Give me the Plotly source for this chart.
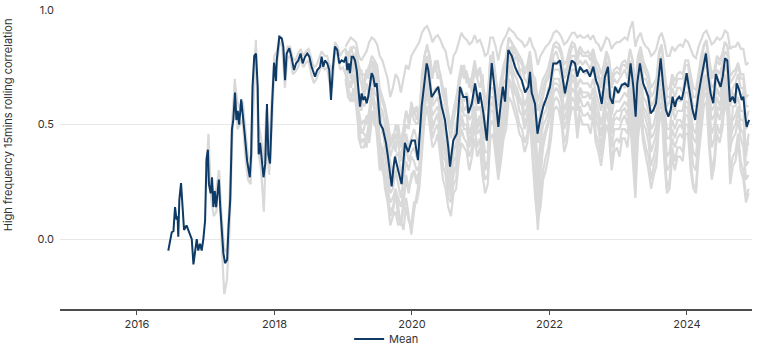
import pandas as pd
import plotly.graph_objects as go

# Mean high-frequency correlation: (decimal year, value)
mean_years = [
    2016.455, 2016.48, 2016.505, 2016.53, 2016.553, 2016.575, 2016.59, 2016.60, 2016.615, 2016.64,
    2016.665, 2016.684, 2016.72, 2016.76, 2016.796, 2016.82, 2016.844, 2016.868, 2016.89, 2016.916,
    2016.94, 2016.964, 2016.989, 2017.01, 2017.03, 2017.045, 2017.07, 2017.09, 2017.11, 2017.13,
    2017.15, 2017.17, 2017.19, 2017.21, 2017.23, 2017.255, 2017.28, 2017.31, 2017.33, 2017.355,
    2017.38, 2017.40, 2017.425, 2017.445, 2017.465, 2017.485, 2017.515, 2017.535, 2017.565, 2017.60,
    2017.64, 2017.66, 2017.68, 2017.705, 2017.73, 2017.755, 2017.77, 2017.79, 2017.81, 2017.84,
    2017.865, 2017.89, 2017.91, 2017.935, 2017.965, 2017.993, 2018.022, 2018.032, 2018.07, 2018.105,
    2018.128, 2018.153, 2018.177, 2018.215, 2018.25, 2018.284, 2018.313, 2018.346, 2018.38, 2018.41,
    2018.444, 2018.477, 2018.506, 2018.54, 2018.589, 2018.622, 2018.662, 2018.686, 2018.71, 2018.735,
    2018.768, 2018.797, 2018.822, 2018.847, 2018.88, 2018.914, 2018.943, 2018.977, 2019.011, 2019.04,
    2019.059, 2019.08, 2019.098, 2019.123, 2019.146, 2019.171, 2019.196, 2019.219, 2019.244, 2019.268,
    2019.292, 2019.316, 2019.341, 2019.364, 2019.389, 2019.414, 2019.437, 2019.462, 2019.487, 2019.51,
    2019.535, 2019.578, 2019.622, 2019.651, 2019.705, 2019.73, 2019.753, 2019.80, 2019.85, 2019.898,
    2019.946, 2019.996, 2020.044, 2020.087, 2020.141, 2020.214, 2020.237, 2020.286, 2020.359, 2020.382,
    2020.432, 2020.48, 2020.528, 2020.553, 2020.60, 2020.65, 2020.698, 2020.746, 2020.795, 2020.82,
    2020.868, 2020.917, 2020.965, 2020.989, 2021.037, 2021.087, 2021.12, 2021.159, 2021.207, 2021.255,
    2021.29, 2021.32, 2021.353, 2021.40, 2021.45, 2021.498, 2021.546, 2021.596, 2021.644, 2021.692,
    2021.716, 2021.74, 2021.789, 2021.825, 2021.862, 2021.91, 2021.959, 2022.007, 2022.055, 2022.104,
    2022.153, 2022.192, 2022.225, 2022.273, 2022.323, 2022.371, 2022.404, 2022.444, 2022.492, 2022.541,
    2022.589, 2022.637, 2022.676, 2022.71, 2022.76, 2022.807, 2022.851, 2022.88, 2022.92, 2022.953,
    2023.0, 2023.05, 2023.098, 2023.146, 2023.18, 2023.22, 2023.254, 2023.277, 2023.316, 2023.364,
    2023.404, 2023.437, 2023.472, 2023.51, 2023.55, 2023.584, 2023.618, 2023.656, 2023.695, 2023.73,
    2023.763, 2023.792, 2023.825, 2023.85, 2023.888, 2023.923, 2023.956, 2023.996, 2024.033, 2024.082,
    2024.12, 2024.163, 2024.213, 2024.246, 2024.276, 2024.31, 2024.344, 2024.382, 2024.42, 2024.455,
    2024.49, 2024.52, 2024.553, 2024.586, 2024.625, 2024.664, 2024.698, 2024.722, 2024.76, 2024.796,
    2024.82, 2024.848, 2024.868, 2024.89, 2024.905,
]
mean_values = [
    -0.05, -0.01, 0.03, 0.035, 0.14, 0.085, 0.10, 0.01, 0.17, 0.245,
    0.14, 0.04, 0.06, 0.03, 0.0, -0.11, -0.06, 0.0, -0.05, -0.02,
    -0.05, 0.0, 0.08, 0.35, 0.39, 0.24, 0.20, 0.27, 0.14, 0.21,
    0.14, 0.21, 0.26, 0.14, 0.05, -0.06, -0.105, -0.09, 0.05, 0.17,
    0.48, 0.52, 0.64, 0.52, 0.56, 0.50, 0.61, 0.56, 0.46, 0.345,
    0.27, 0.37, 0.665, 0.80, 0.81, 0.665, 0.37, 0.42, 0.345, 0.27,
    0.33, 0.59, 0.37, 0.33, 0.59, 0.77, 0.69, 0.78, 0.883, 0.876,
    0.84, 0.694, 0.81, 0.833, 0.79, 0.738, 0.767, 0.78, 0.81, 0.767,
    0.796, 0.81, 0.796, 0.752, 0.709, 0.738, 0.752, 0.796, 0.752, 0.78,
    0.767, 0.738, 0.607, 0.738, 0.84, 0.825, 0.767, 0.78, 0.774, 0.796,
    0.738, 0.767, 0.724, 0.796, 0.796, 0.78, 0.738, 0.665, 0.578, 0.636,
    0.607, 0.622, 0.593, 0.622, 0.665, 0.724, 0.709, 0.665, 0.68, 0.593,
    0.505, 0.48, 0.42, 0.36, 0.23, 0.31, 0.36, 0.30, 0.24, 0.42,
    0.38, 0.43, 0.43, 0.345, 0.578, 0.767, 0.74, 0.62, 0.65, 0.665,
    0.578, 0.52, 0.40, 0.316, 0.43, 0.46, 0.665, 0.62, 0.62, 0.55,
    0.59, 0.68, 0.59, 0.64, 0.55, 0.43, 0.60, 0.768, 0.64, 0.49,
    0.59, 0.665, 0.60, 0.825, 0.80, 0.752, 0.72, 0.694, 0.64, 0.665,
    0.73, 0.64, 0.59, 0.46, 0.52, 0.58, 0.62, 0.665, 0.767, 0.767,
    0.78, 0.709, 0.636, 0.709, 0.78, 0.767, 0.709, 0.752, 0.73, 0.738,
    0.709, 0.752, 0.694, 0.665, 0.59, 0.709, 0.752, 0.62, 0.59, 0.665,
    0.637, 0.672, 0.68, 0.665, 0.767, 0.665, 0.534, 0.68, 0.767, 0.68,
    0.65, 0.622, 0.549, 0.563, 0.593, 0.709, 0.789, 0.665, 0.563, 0.534,
    0.563, 0.622, 0.578, 0.607, 0.622, 0.607, 0.65, 0.724, 0.65, 0.563,
    0.52, 0.622, 0.71, 0.767, 0.81, 0.709, 0.636, 0.593, 0.72, 0.69,
    0.665, 0.709, 0.789, 0.78, 0.60, 0.622, 0.593, 0.68, 0.65, 0.607,
    0.622, 0.534, 0.49, 0.51, 0.52,
]

# Individual series on a fortnightly grid starting 2017-01-01
grid_start = "2017-01-01"
grid_len = 207
late_offset = 53  # later series begin in January 2019

series_a = [
    0.34, 0.28, 0.26, 0.20, 0.22, 0.30, 0.10, -0.04, -0.06, 0.18,
    0.52, 0.68, 0.60, 0.57, 0.60, 0.48, 0.36, 0.34, 0.70, 0.84,
    0.50, 0.44, 0.33, 0.56, 0.40, 0.60, 0.80, 0.82, 0.89, 0.87,
    0.76, 0.84, 0.84, 0.79, 0.78, 0.81, 0.83, 0.80, 0.82, 0.83,
    0.79, 0.75, 0.76, 0.79, 0.82, 0.80, 0.80, 0.76, 0.74, 0.86,
    0.84, 0.80, 0.82, 0.83, 0.80, 0.82, 0.84, 0.83, 0.76, 0.72,
    0.72, 0.70, 0.75, 0.80, 0.78, 0.76, 0.66, 0.62, 0.58, 0.52,
    0.44, 0.42, 0.50, 0.46, 0.40, 0.48, 0.56, 0.52, 0.58, 0.57,
    0.52, 0.56, 0.70, 0.80, 0.85, 0.78, 0.72, 0.74, 0.76, 0.72,
    0.66, 0.62, 0.54, 0.48, 0.56, 0.60, 0.70, 0.76, 0.72, 0.73,
    0.68, 0.71, 0.78, 0.72, 0.75, 0.68, 0.62, 0.62, 0.80, 0.80,
    0.72, 0.62, 0.70, 0.76, 0.80, 0.88, 0.86, 0.84, 0.82, 0.80,
    0.78, 0.74, 0.76, 0.82, 0.72, 0.70, 0.60, 0.65, 0.70, 0.72,
    0.75, 0.80, 0.85, 0.86, 0.85, 0.82, 0.76, 0.78, 0.83, 0.86,
    0.85, 0.80, 0.84, 0.82, 0.81, 0.82, 0.80, 0.83, 0.78, 0.76,
    0.72, 0.76, 0.82, 0.79, 0.70, 0.74, 0.75, 0.74, 0.77, 0.78,
    0.76, 0.83, 0.78, 0.66, 0.80, 0.84, 0.78, 0.75, 0.72, 0.66,
    0.68, 0.70, 0.82, 0.85, 0.74, 0.65, 0.66, 0.72, 0.69, 0.72,
    0.73, 0.72, 0.78, 0.78, 0.72, 0.66, 0.65, 0.73, 0.80, 0.85,
    0.87, 0.79, 0.72, 0.74, 0.80, 0.78, 0.81, 0.86, 0.84, 0.71,
    0.73, 0.74, 0.77, 0.72, 0.72, 0.62, 0.63,
]
series_b = [
    0.22, 0.46, 0.18, 0.10, 0.12, 0.30, -0.02, -0.24, -0.18, 0.04,
    0.42, 0.70, 0.48, 0.50, 0.52, 0.36, 0.26, 0.24, 0.60, 0.87,
    0.38, 0.30, 0.12, 0.44, 0.28, 0.48, 0.74, 0.76, 0.86, 0.84,
    0.66, 0.79, 0.80, 0.72, 0.73, 0.75, 0.79, 0.75, 0.77, 0.78,
    0.72, 0.68, 0.70, 0.73, 0.76, 0.74, 0.75, 0.68, 0.66, 0.82,
    0.80, 0.74, 0.75, 0.72, 0.66, 0.68, 0.72, 0.66, 0.52, 0.48,
    0.46, 0.44, 0.52, 0.62, 0.56, 0.54, 0.38, 0.32, 0.28, 0.20,
    0.10, 0.12, 0.20, 0.14, 0.06, 0.16, 0.26, 0.20, 0.28, 0.30,
    0.24, 0.28, 0.46, 0.60, 0.68, 0.58, 0.50, 0.52, 0.55, 0.48,
    0.42, 0.36, 0.26, 0.18, 0.28, 0.32, 0.46, 0.54, 0.50, 0.50,
    0.42, 0.48, 0.56, 0.48, 0.52, 0.42, 0.32, 0.34, 0.58, 0.60,
    0.46, 0.34, 0.46, 0.54, 0.60, 0.74, 0.72, 0.66, 0.64, 0.60,
    0.58, 0.50, 0.54, 0.62, 0.48, 0.40, 0.22, 0.36, 0.44, 0.48,
    0.52, 0.60, 0.68, 0.68, 0.67, 0.62, 0.52, 0.56, 0.64, 0.70,
    0.68, 0.58, 0.65, 0.62, 0.62, 0.63, 0.61, 0.66, 0.56, 0.52,
    0.45, 0.54, 0.63, 0.60, 0.46, 0.52, 0.53, 0.52, 0.56, 0.57,
    0.54, 0.64, 0.56, 0.36, 0.60, 0.66, 0.56, 0.52, 0.48, 0.38,
    0.42, 0.46, 0.62, 0.66, 0.50, 0.36, 0.38, 0.48, 0.44, 0.48,
    0.50, 0.48, 0.58, 0.57, 0.46, 0.38, 0.36, 0.50, 0.60, 0.68,
    0.70, 0.56, 0.46, 0.50, 0.58, 0.56, 0.62, 0.70, 0.66, 0.44,
    0.48, 0.50, 0.56, 0.48, 0.46, 0.32, 0.34,
]
series_c = [
    0.84, 0.86, 0.88, 0.87, 0.86, 0.80, 0.78,
    0.80, 0.82, 0.86, 0.88, 0.87, 0.85, 0.80, 0.78, 0.74, 0.70,
    0.62, 0.66, 0.72, 0.70, 0.64, 0.70, 0.76, 0.74, 0.80, 0.82,
    0.84, 0.86, 0.90, 0.92, 0.93, 0.90, 0.86, 0.88, 0.89, 0.87,
    0.84, 0.82, 0.76, 0.72, 0.80, 0.82, 0.86, 0.90, 0.88, 0.87,
    0.85, 0.86, 0.89, 0.86, 0.87, 0.84, 0.80, 0.81, 0.88, 0.88,
    0.84, 0.78, 0.84, 0.87, 0.89, 0.92, 0.91, 0.90, 0.88, 0.87,
    0.86, 0.84, 0.85, 0.88, 0.84, 0.82, 0.76, 0.80, 0.82, 0.84,
    0.85, 0.87, 0.90, 0.91, 0.90, 0.88, 0.85, 0.86, 0.88, 0.90,
    0.90, 0.88, 0.89, 0.88, 0.88, 0.89, 0.87, 0.89, 0.86, 0.85,
    0.82, 0.85, 0.88, 0.87, 0.83, 0.85, 0.86, 0.86, 0.87, 0.88,
    0.87, 0.92, 0.95, 0.84, 0.88, 0.90, 0.86, 0.84, 0.83, 0.80,
    0.81, 0.83, 0.88, 0.90, 0.86, 0.80, 0.80, 0.84, 0.82, 0.84,
    0.85, 0.84, 0.87, 0.86, 0.83, 0.80, 0.79, 0.84, 0.87, 0.90,
    0.91, 0.88, 0.85, 0.86, 0.88, 0.87, 0.88, 0.91, 0.90, 0.83,
    0.84, 0.84, 0.86, 0.83, 0.83, 0.76, 0.77,
]
series_d = [
    0.80, 0.72, 0.74, 0.80, 0.70, 0.60, 0.56,
    0.68, 0.74, 0.70, 0.78, 0.72, 0.74, 0.58, 0.56, 0.50, 0.46,
    0.36, 0.40, 0.46, 0.42, 0.34, 0.44, 0.50, 0.48, 0.56, 0.52,
    0.50, 0.52, 0.72, 0.80, 0.84, 0.80, 0.72, 0.76, 0.78, 0.70,
    0.64, 0.58, 0.50, 0.44, 0.52, 0.58, 0.68, 0.74, 0.70, 0.72,
    0.66, 0.70, 0.76, 0.70, 0.74, 0.66, 0.58, 0.60, 0.80, 0.78,
    0.70, 0.58, 0.68, 0.74, 0.78, 0.88, 0.86, 0.82, 0.80, 0.78,
    0.76, 0.72, 0.74, 0.80, 0.70, 0.66, 0.56, 0.60, 0.66, 0.70,
    0.72, 0.78, 0.84, 0.84, 0.83, 0.80, 0.72, 0.75, 0.80, 0.84,
    0.84, 0.78, 0.82, 0.80, 0.80, 0.80, 0.78, 0.82, 0.76, 0.72,
    0.68, 0.74, 0.80, 0.78, 0.68, 0.72, 0.73, 0.72, 0.76, 0.76,
    0.74, 0.82, 0.78, 0.62, 0.78, 0.82, 0.76, 0.72, 0.70, 0.62,
    0.64, 0.68, 0.80, 0.84, 0.72, 0.62, 0.62, 0.70, 0.66, 0.70,
    0.70, 0.70, 0.76, 0.76, 0.68, 0.62, 0.62, 0.70, 0.78, 0.84,
    0.86, 0.76, 0.70, 0.72, 0.78, 0.76, 0.80, 0.86, 0.84, 0.68,
    0.70, 0.72, 0.76, 0.70, 0.70, 0.58, 0.58,
]
series_e = [
    0.70, 0.62, 0.60, 0.66, 0.58, 0.48, 0.42,
    0.44, 0.40, 0.48, 0.56, 0.50, 0.48, 0.36, 0.30, 0.26, 0.18,
    0.12, 0.14, 0.20, 0.10, 0.06, 0.12, 0.18, 0.10, 0.02, 0.12,
    0.20, 0.26, 0.44, 0.56, 0.64, 0.56, 0.44, 0.48, 0.50, 0.40,
    0.32, 0.28, 0.18, 0.16, 0.24, 0.26, 0.40, 0.48, 0.44, 0.42,
    0.36, 0.40, 0.50, 0.40, 0.44, 0.32, 0.26, 0.28, 0.50, 0.52,
    0.40, 0.30, 0.40, 0.48, 0.54, 0.68, 0.66, 0.60, 0.56, 0.50,
    0.48, 0.42, 0.46, 0.56, 0.40, 0.24, 0.04, 0.20, 0.30, 0.36,
    0.40, 0.50, 0.60, 0.62, 0.60, 0.54, 0.42, 0.46, 0.56, 0.62,
    0.60, 0.48, 0.58, 0.54, 0.54, 0.55, 0.52, 0.58, 0.46, 0.42,
    0.36, 0.46, 0.56, 0.50, 0.32, 0.42, 0.44, 0.42, 0.48, 0.48,
    0.46, 0.58, 0.42, 0.20, 0.50, 0.58, 0.46, 0.40, 0.36, 0.26,
    0.32, 0.36, 0.56, 0.60, 0.40, 0.22, 0.26, 0.40, 0.34, 0.40,
    0.40, 0.38, 0.50, 0.50, 0.34, 0.24, 0.22, 0.40, 0.52, 0.62,
    0.64, 0.44, 0.30, 0.36, 0.50, 0.46, 0.52, 0.64, 0.58, 0.30,
    0.36, 0.38, 0.46, 0.34, 0.30, 0.18, 0.22,
]
series_f = [
    0.76, 0.74, 0.72, 0.76, 0.74, 0.56, 0.50,
    0.52, 0.50, 0.56, 0.66, 0.60, 0.58, 0.42, 0.40, 0.36, 0.28,
    0.20, 0.22, 0.30, 0.24, 0.18, 0.26, 0.34, 0.30, 0.36, 0.34,
    0.30, 0.32, 0.52, 0.64, 0.72, 0.62, 0.54, 0.56, 0.58, 0.52,
    0.44, 0.40, 0.28, 0.22, 0.34, 0.36, 0.50, 0.58, 0.54, 0.54,
    0.46, 0.50, 0.58, 0.50, 0.54, 0.46, 0.38, 0.38, 0.62, 0.62,
    0.50, 0.38, 0.50, 0.56, 0.62, 0.76, 0.74, 0.68, 0.66, 0.62,
    0.60, 0.54, 0.58, 0.66, 0.52, 0.48, 0.30, 0.42, 0.50, 0.52,
    0.56, 0.62, 0.70, 0.70, 0.70, 0.66, 0.56, 0.60, 0.66, 0.72,
    0.70, 0.62, 0.66, 0.64, 0.64, 0.64, 0.62, 0.66, 0.60, 0.56,
    0.50, 0.56, 0.66, 0.62, 0.50, 0.54, 0.56, 0.56, 0.58, 0.60,
    0.58, 0.66, 0.60, 0.44, 0.62, 0.68, 0.58, 0.56, 0.52, 0.44,
    0.46, 0.50, 0.66, 0.70, 0.54, 0.44, 0.44, 0.52, 0.48, 0.52,
    0.52, 0.50, 0.60, 0.60, 0.50, 0.44, 0.42, 0.54, 0.62, 0.70,
    0.72, 0.60, 0.52, 0.54, 0.62, 0.58, 0.64, 0.72, 0.68, 0.50,
    0.52, 0.54, 0.58, 0.52, 0.52, 0.40, 0.42,
]
series_g = [
    0.78, 0.82, 0.80, 0.76, 0.82, 0.72, 0.68,
    0.62, 0.68, 0.62, 0.70, 0.74, 0.66, 0.60, 0.46, 0.50, 0.40,
    0.34, 0.26, 0.36, 0.38, 0.28, 0.34, 0.46, 0.40, 0.44, 0.48,
    0.44, 0.40, 0.62, 0.68, 0.78, 0.72, 0.60, 0.66, 0.64, 0.62,
    0.58, 0.48, 0.44, 0.30, 0.44, 0.50, 0.56, 0.66, 0.60, 0.64,
    0.60, 0.56, 0.68, 0.64, 0.60, 0.60, 0.52, 0.48, 0.70, 0.74,
    0.62, 0.52, 0.56, 0.68, 0.70, 0.84, 0.78, 0.78, 0.72, 0.74,
    0.68, 0.66, 0.64, 0.74, 0.64, 0.56, 0.50, 0.52, 0.60, 0.58,
    0.66, 0.68, 0.78, 0.76, 0.78, 0.72, 0.68, 0.66, 0.76, 0.76,
    0.78, 0.72, 0.74, 0.74, 0.72, 0.74, 0.72, 0.76, 0.68, 0.68,
    0.62, 0.66, 0.74, 0.68, 0.62, 0.62, 0.66, 0.64, 0.68, 0.66,
    0.68, 0.72, 0.70, 0.56, 0.70, 0.76, 0.66, 0.66, 0.60, 0.56,
    0.56, 0.62, 0.72, 0.78, 0.62, 0.56, 0.54, 0.62, 0.56, 0.62,
    0.60, 0.62, 0.70, 0.66, 0.62, 0.54, 0.56, 0.62, 0.72, 0.76,
    0.80, 0.68, 0.64, 0.62, 0.72, 0.66, 0.74, 0.78, 0.78, 0.58,
    0.64, 0.62, 0.68, 0.62, 0.64, 0.48, 0.52,
]
series_h = [
    0.74, 0.70, 0.66, 0.70, 0.66, 0.52, 0.46,
    0.48, 0.54, 0.50, 0.62, 0.58, 0.56, 0.44, 0.36, 0.30, 0.22,
    0.16, 0.18, 0.22, 0.18, 0.14, 0.20, 0.28, 0.22, 0.26, 0.30,
    0.26, 0.30, 0.50, 0.60, 0.68, 0.60, 0.48, 0.52, 0.54, 0.46,
    0.36, 0.34, 0.22, 0.20, 0.30, 0.32, 0.44, 0.52, 0.48, 0.48,
    0.40, 0.44, 0.54, 0.46, 0.48, 0.40, 0.30, 0.34, 0.56, 0.56,
    0.44, 0.34, 0.44, 0.50, 0.56, 0.70, 0.68, 0.64, 0.62, 0.56,
    0.54, 0.48, 0.52, 0.60, 0.46, 0.36, 0.10, 0.28, 0.40, 0.46,
    0.50, 0.56, 0.64, 0.66, 0.64, 0.60, 0.48, 0.52, 0.60, 0.66,
    0.64, 0.56, 0.62, 0.58, 0.58, 0.60, 0.56, 0.62, 0.52, 0.48,
    0.40, 0.50, 0.60, 0.56, 0.40, 0.48, 0.48, 0.48, 0.52, 0.54,
    0.50, 0.60, 0.52, 0.26, 0.56, 0.62, 0.50, 0.48, 0.42, 0.32,
    0.36, 0.42, 0.60, 0.64, 0.46, 0.30, 0.32, 0.44, 0.40, 0.44,
    0.46, 0.44, 0.54, 0.54, 0.42, 0.32, 0.30, 0.46, 0.56, 0.64,
    0.68, 0.52, 0.40, 0.44, 0.56, 0.52, 0.58, 0.68, 0.62, 0.40,
    0.44, 0.46, 0.52, 0.44, 0.40, 0.26, 0.28,
]
series_i = [
    0.82, 0.78, 0.84, 0.80, 0.76, 0.70, 0.74,
    0.66, 0.72, 0.76, 0.70, 0.78, 0.70, 0.64, 0.60, 0.56, 0.48,
    0.40, 0.46, 0.38, 0.50, 0.42, 0.48, 0.56, 0.50, 0.60, 0.54,
    0.58, 0.50, 0.66, 0.76, 0.80, 0.74, 0.70, 0.78, 0.70, 0.72,
    0.62, 0.66, 0.52, 0.50, 0.56, 0.62, 0.66, 0.72, 0.76, 0.68,
    0.70, 0.64, 0.74, 0.70, 0.66, 0.72, 0.56, 0.64, 0.74, 0.82,
    0.66, 0.60, 0.64, 0.72, 0.76, 0.82, 0.84, 0.78, 0.80, 0.74,
    0.74, 0.70, 0.68, 0.78, 0.68, 0.62, 0.42, 0.58, 0.62, 0.68,
    0.70, 0.74, 0.80, 0.82, 0.78, 0.76, 0.70, 0.72, 0.78, 0.80,
    0.80, 0.76, 0.78, 0.76, 0.78, 0.76, 0.74, 0.80, 0.72, 0.70,
    0.66, 0.70, 0.78, 0.72, 0.66, 0.70, 0.68, 0.70, 0.72, 0.74,
    0.70, 0.78, 0.74, 0.50, 0.74, 0.80, 0.70, 0.70, 0.66, 0.58,
    0.60, 0.64, 0.76, 0.80, 0.68, 0.58, 0.60, 0.66, 0.62, 0.66,
    0.66, 0.64, 0.72, 0.72, 0.64, 0.58, 0.58, 0.66, 0.74, 0.80,
    0.82, 0.72, 0.66, 0.68, 0.74, 0.72, 0.76, 0.82, 0.80, 0.62,
    0.66, 0.68, 0.72, 0.66, 0.66, 0.52, 0.56,
]
series_j = [
    0.72, 0.78, 0.70, 0.74, 0.78, 0.64, 0.60,
    0.58, 0.60, 0.66, 0.72, 0.64, 0.62, 0.50, 0.48, 0.40, 0.34,
    0.26, 0.30, 0.28, 0.32, 0.24, 0.30, 0.40, 0.34, 0.38, 0.40,
    0.36, 0.36, 0.58, 0.66, 0.74, 0.66, 0.58, 0.60, 0.62, 0.56,
    0.50, 0.44, 0.36, 0.26, 0.38, 0.42, 0.54, 0.62, 0.56, 0.58,
    0.52, 0.54, 0.64, 0.56, 0.58, 0.52, 0.44, 0.44, 0.66, 0.66,
    0.56, 0.44, 0.54, 0.62, 0.66, 0.80, 0.76, 0.72, 0.70, 0.66,
    0.64, 0.58, 0.62, 0.70, 0.58, 0.52, 0.18, 0.46, 0.54, 0.56,
    0.60, 0.66, 0.74, 0.74, 0.74, 0.70, 0.62, 0.64, 0.70, 0.74,
    0.74, 0.66, 0.70, 0.68, 0.68, 0.68, 0.66, 0.70, 0.64, 0.60,
    0.56, 0.62, 0.70, 0.66, 0.54, 0.60, 0.60, 0.60, 0.62, 0.64,
    0.62, 0.70, 0.64, 0.34, 0.66, 0.72, 0.62, 0.60, 0.56, 0.48,
    0.50, 0.56, 0.70, 0.74, 0.58, 0.48, 0.48, 0.58, 0.52, 0.56,
    0.56, 0.56, 0.64, 0.64, 0.56, 0.48, 0.46, 0.58, 0.66, 0.74,
    0.76, 0.64, 0.56, 0.58, 0.66, 0.62, 0.68, 0.76, 0.72, 0.38,
    0.58, 0.58, 0.62, 0.56, 0.56, 0.36, 0.46,
]
series_k = [
    0.68, 0.66, 0.62, 0.60, 0.70, 0.44, 0.40,
    0.40, 0.46, 0.42, 0.52, 0.56, 0.44, 0.30, 0.34, 0.22, 0.16,
    0.06, 0.10, 0.12, 0.06, 0.08, 0.04, 0.14, 0.08, 0.06, 0.16,
    0.16, 0.22, 0.38, 0.52, 0.58, 0.50, 0.40, 0.42, 0.46, 0.36,
    0.26, 0.22, 0.14, 0.10, 0.20, 0.22, 0.34, 0.42, 0.40, 0.38,
    0.30, 0.36, 0.44, 0.36, 0.40, 0.28, 0.20, 0.24, 0.44, 0.46,
    0.36, 0.26, 0.34, 0.44, 0.48, 0.62, 0.60, 0.56, 0.52, 0.46,
    0.44, 0.38, 0.42, 0.52, 0.34, 0.18, 0.08, 0.14, 0.26, 0.30,
    0.36, 0.44, 0.56, 0.58, 0.56, 0.50, 0.38, 0.42, 0.52, 0.58,
    0.56, 0.44, 0.54, 0.50, 0.50, 0.50, 0.46, 0.54, 0.42, 0.38,
    0.32, 0.40, 0.50, 0.46, 0.30, 0.38, 0.40, 0.36, 0.44, 0.44,
    0.40, 0.52, 0.36, 0.18, 0.44, 0.54, 0.42, 0.36, 0.30, 0.22,
    0.28, 0.32, 0.50, 0.56, 0.34, 0.20, 0.22, 0.36, 0.30, 0.36,
    0.36, 0.34, 0.46, 0.46, 0.30, 0.22, 0.20, 0.36, 0.48, 0.58,
    0.60, 0.40, 0.26, 0.32, 0.46, 0.42, 0.48, 0.60, 0.54, 0.24,
    0.32, 0.34, 0.42, 0.30, 0.26, 0.16, 0.20,
]

x_ticks = ["2016", "2018", "2020", "2022", "2024"]
y_ticks = [0.0, 0.5, 1.0]
y_title = "High frequency 15mins rolling correlation"


def to_date(y):
    yr = int(y)
    start = pd.Timestamp(year=yr, month=1, day=1)
    days = (pd.Timestamp(year=yr + 1, month=1, day=1) - start).days
    return start + pd.Timedelta(days=(y - yr) * days)


grid = pd.date_range(grid_start, periods=grid_len, freq="14D")
full_series = [series_a, series_b]
late_series = [series_c, series_d, series_e, series_f, series_g,
               series_h, series_i, series_j, series_k]

fig = go.Figure()
GREY = "#d9d9d9"
for s in full_series:
    fig.add_trace(go.Scatter(x=grid[:len(s)], y=s, mode="lines",
                             line=dict(color=GREY, width=2.2), showlegend=False,
                             hoverinfo="skip"))
for s in late_series:
    fig.add_trace(go.Scatter(x=grid[late_offset:late_offset + len(s)], y=s, mode="lines",
                             line=dict(color=GREY, width=2.2), showlegend=False,
                             hoverinfo="skip"))

fig.add_trace(go.Scatter(x=[to_date(v) for v in mean_years], y=mean_values, mode="lines",
                         name="Mean", line=dict(color="#0e3a66", width=2)))

FONT = "Inter, Roboto, sans-serif"
fig.update_layout(
    width=770, height=346,
    margin=dict(l=60, r=18, t=10, b=37, autoexpand=False),
    paper_bgcolor="white", plot_bgcolor="white",
    font=dict(family=FONT, size=11, color="#333333"),
    showlegend=True,
    legend=dict(orientation="h", x=0.472, xanchor="center", y=-0.100, yanchor="middle",
                font=dict(size=11, color="#333333"), bgcolor="rgba(0,0,0,0)"),
    annotations=[dict(text=y_title, textangle=-90, showarrow=False,
                      xref="paper", yref="paper", x=-0.075, y=0.615,
                      xanchor="center", yanchor="middle",
                      font=dict(size=11, color="#333333"))],
)
fig.update_xaxes(
    type="date",
    range=[to_date(2014.88), to_date(2024.945)],
    tickvals=[pd.Timestamp(f"{t}-01-01") for t in x_ticks],
    ticktext=x_ticks,
    showgrid=False, zeroline=False,
    showline=True, linecolor="#4d4d4d", linewidth=1.5,
    ticks="outside", ticklen=4, tickcolor="#4d4d4d", tickwidth=1,
    tickfont=dict(size=11, color="#333333"),
)
fig.update_yaxes(
    range=[-0.305, 1.0],
    tickvals=y_ticks,
    ticktext=[f"{v:.1f}" for v in y_ticks],
    showgrid=True, gridcolor="#e8e8e8", gridwidth=1,
    zeroline=False, showline=False, ticks="",
    ticklabelstandoff=5,
    tickfont=dict(size=11, color="#333333"),
)

fig.write_html("out.html")
